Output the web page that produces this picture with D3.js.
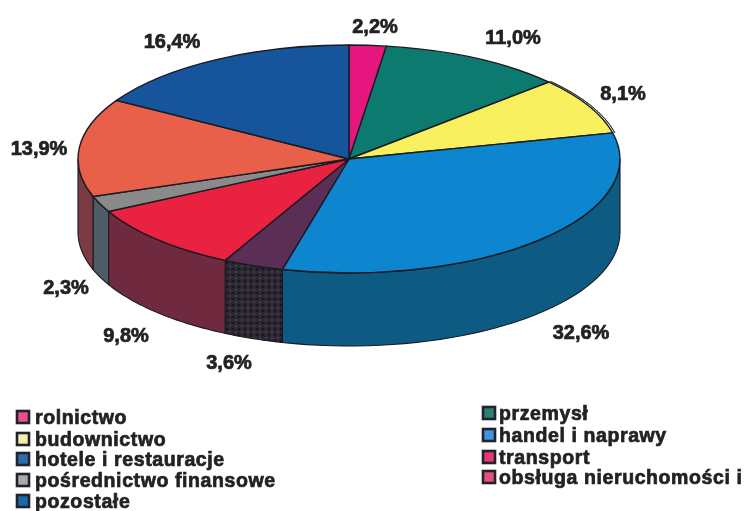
<!DOCTYPE html>
<html><head><meta charset="utf-8">
<style>html,body{margin:0;padding:0;background:#fff;overflow:hidden}svg{display:block}
text{font-family:"Liberation Sans",Arial,sans-serif;font-weight:bold;fill:#222;stroke:#222;stroke-width:.7px}</style>
<script src="https://cdn.jsdelivr.net/npm/d3@7/dist/d3.min.js"></script></head><body>
<script>
const sectors = ["rolnictwo","przemysł","budownictwo","handel i naprawy","obsługa","transport","pośrednictwo","hotele","pozostałe"];
const values = [2.2,11.0,8.1,32.6,3.6,9.8,2.3,13.9,16.4];
const valueLabels = ["2,2%","11,0%","8,1%","32,6%","3,6%","9,8%","2,3%","13,9%","16,4%"];
const topColors = ["#e6157f","#0e7a70","#f8f05e","#0a86cf","#5a2f55","#e8213f","#8a8a8a","#e8604a","#14559c"];
const wallColors = ["#8a0a4a","#064a45","#999030","#0b5a83","url(#weave)","#6f2a40","#505c66","#7a3a42","#0c3560"];
const labelX = [375,513,623,581,229,126,66,39,172];
const labelY = [26,37,93,332,362,335,287,148,41];
const legendLeft = ["rolnictwo","budownictwo","hotele i restauracje","pośrednictwo finansowe","pozostałe"];
const legendLeftColors = ["#e8508f","#f6eeb0","#2a6fb0","#a9a9b0","#1f68ad"];
const legendLeftY = [417,439,459,480,501];
const legendRight = ["przemysł","handel i naprawy","transport","obsługa nieruchomości i"];
const legendRightColors = ["#2f7f72","#3f93de","#e63a70","#e8507f"];
const legendRightY = [413,435,457,477];

const W=749,H=511,rx=271,ry=114,depth=73,cx=349,cy=159;
const svg=d3.select("body").append("svg").attr("width",W).attr("height",H);
const defs=svg.append("defs");
defs.append("filter").attr("id","scan").attr("x","-5%").attr("y","-5%").attr("width","110%").attr("height","110%")
  .append("feGaussianBlur").attr("stdDeviation",0.55);
const pat=defs.append("pattern").attr("id","weave").attr("width",6).attr("height",6).attr("patternUnits","userSpaceOnUse");
pat.append("rect").attr("width",6).attr("height",6).attr("fill","#2c2630");
pat.append("rect").attr("x",1).attr("y",1).attr("width",2).attr("height",2).attr("fill","#4a3a48");
pat.append("rect").attr("x",4).attr("y",4).attr("width",2).attr("height",2).attr("fill","#141216");

const g=svg.append("g").attr("filter","url(#scan)");
const arcs=d3.pie().sort(null).value(d=>d)(values);
const sx=d3.scaleLinear().domain([-1,1]).range([cx-rx,cx+rx]);
const sy=d3.scaleLinear().domain([-1,1]).range([cy-ry,cy+ry]);
const ptX=a=>sx(Math.sin(a)), ptY=a=>sy(-Math.cos(a));

const lo=Math.PI/2, hi=3*Math.PI/2;
const walls=arcs.map((d,i)=>({a0:Math.max(d.startAngle,lo),a1:Math.min(d.endAngle,hi),i})).filter(d=>d.a1>d.a0);
const wallPath=d=>{
  const n=40, ts=d3.range(n+1).map(k=>d.a0+(d.a1-d.a0)*k/n);
  const p=d3.path();
  ts.forEach((t,k)=>k?p.lineTo(ptX(t),ptY(t)):p.moveTo(ptX(t),ptY(t)));
  ts.slice().reverse().forEach(t=>p.lineTo(ptX(t),ptY(t)+depth));
  p.closePath();
  return p.toString();
};
g.selectAll("path.wall").data(walls).join("path").attr("class","wall")
  .attr("d",wallPath).attr("fill",d=>wallColors[d.i]).attr("stroke","#1a1a22").attr("stroke-width",1.1);

const arc=d3.arc().innerRadius(0).outerRadius(1);
g.append("g").attr("transform",`translate(${cx},${cy}) scale(${rx},${ry})`)
  .selectAll("path").data(arcs).join("path")
  .attr("d",arc).attr("fill",(d,i)=>topColors[i])
  .attr("stroke","#1a1a22").attr("stroke-width",1.4).attr("vector-effect","non-scaling-stroke");

const rim=d3.arc().innerRadius(1.008).outerRadius(1.008);
g.append("path").attr("transform",`translate(${cx},${cy}) scale(${rx},${ry})`)
  .attr("d",rim(arcs[2])).attr("fill","none").attr("stroke","#333").attr("stroke-width",1).attr("vector-effect","non-scaling-stroke");

g.selectAll("text.val").data(valueLabels).join("text").attr("class","val")
  .attr("x",(d,i)=>labelX[i]).attr("y",(d,i)=>labelY[i]).attr("text-anchor","middle").attr("dominant-baseline","central")
  .attr("font-size",20).text(d=>d);

function legend(names,colors,ys,xs,xt){
  names.forEach((n,i)=>{
    g.append("rect").attr("x",xs).attr("y",ys[i]-6).attr("width",12).attr("height",12)
      .attr("fill",colors[i]).attr("stroke","#20242c").attr("stroke-width",2.6);
    g.append("text").attr("x",xt).attr("y",ys[i]).attr("dominant-baseline","central")
      .attr("font-size",19.5).attr("letter-spacing",0.6).text(n);
  });
}
legend(legendLeft,legendLeftColors,legendLeftY,17,35);
legend(legendRight,legendRightColors,legendRightY,483,499);
</script></body></html>
